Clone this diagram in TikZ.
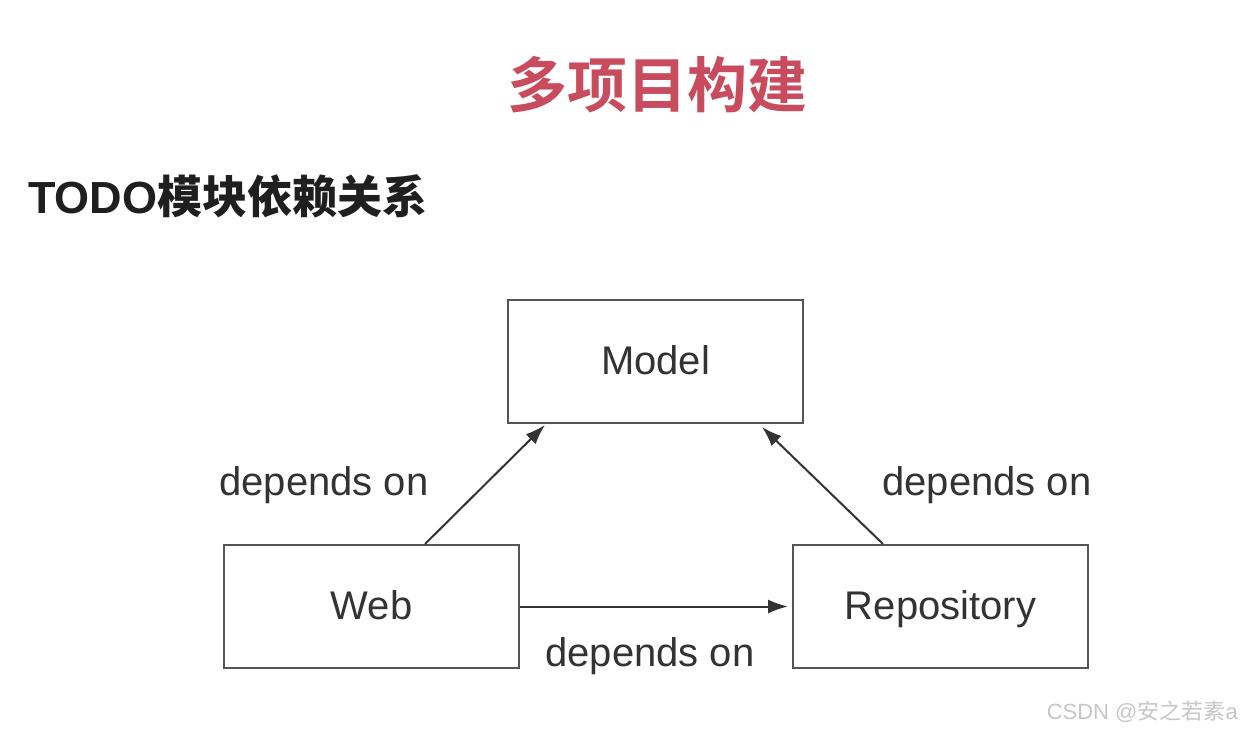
\documentclass[tikz,border=0pt]{standalone}
\usepackage{fontspec}
\setmainfont{Liberation Sans}
\newfontfamily\cjk{Noto Sans CJK SC}
\newfontfamily\cjkb{Noto Sans CJK SC Bold}
\usetikzlibrary{arrows.meta}
\definecolor{titlered}{HTML}{C94B5E}
\definecolor{boxgray}{HTML}{555555}
\definecolor{txtgray}{HTML}{333333}
\begin{document}
\begin{tikzpicture}[x=1pt,y=-1pt,
  modbox/.style={draw=boxgray,line width=2pt,minimum width=295pt,minimum height=123pt,inner sep=0pt,anchor=north west,
     font=\fontsize{40}{44}\selectfont,text=txtgray,text depth=2pt},
  deplabel/.style={font=\fontsize{40}{44}\selectfont,text=txtgray,inner sep=0pt},
  deparrow/.style={draw=txtgray,line width=2pt,-{Latex[length=20pt,width=14pt]}}]
\useasboundingbox[fill=white] (0,0) rectangle (1242,730);
\node[font=\cjkb\fontsize{60}{64}\selectfont,text=titlered,inner sep=0pt] (title) at (657,85) {多项目构建};
\node[anchor=west,inner sep=0pt,text=black!88] (sub) at (28,196) {\fontsize{45}{48}\selectfont\bfseries TODO\cjkb\fontsize{45}{48}\selectfont 模块依赖关系};
\node[modbox] (model) at (507,299) {Model};
\node[modbox] (web) at (223,544) {Web};
\node[modbox] (repo) at (792,544) {Repository};
\coordinate (mtipL) at (545,425);
\coordinate (mtipR) at (762,427);
\coordinate (rtip) at (788,604);
\draw[deparrow] (web.north west)++(202,0) coordinate (ws) -- (mtipL);
\draw[deparrow] (repo.north west)++(91,0) coordinate (rs) -- (mtipR);
\draw[deparrow] (web.east) -- (web.east -| rtip);
\node[deplabel] (l1) at (324,485) {depends on};
\node[deplabel] (l2) at (987,485) {depends on};
\node[deplabel] (l3) at (650,656) {depends on};
\node[anchor=east,inner sep=0pt,text=black!22,font=\fontsize{22}{24}\selectfont] (wm) at (1238,712) {CSDN @{\cjk 安之若素}a};
\end{tikzpicture}
\end{document}
